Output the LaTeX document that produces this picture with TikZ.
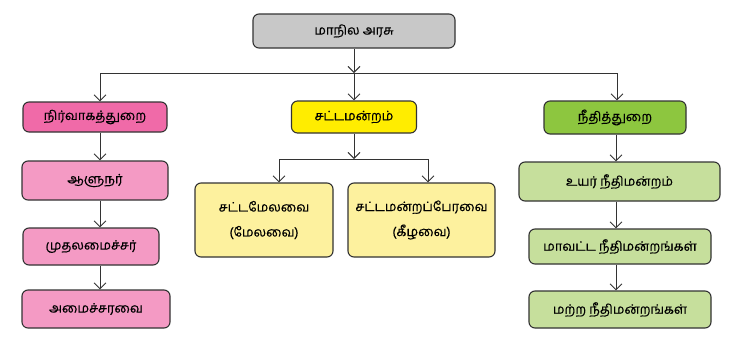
\documentclass[tikz,border=0pt]{standalone}
\usepackage{fontspec}
\newfontfamily\tamil[Script=Tamil, FakeBold=0.4]{Hind Madurai}
\usetikzlibrary{arrows.meta}
\definecolor{linec}{HTML}{333333}
\definecolor{greyc}{HTML}{C8C8C8}
\definecolor{pinkd}{HTML}{F06AA8}
\definecolor{pinkl}{HTML}{F49AC4}
\definecolor{yeld}{HTML}{FFED00}
\definecolor{yell}{HTML}{FDF19E}
\definecolor{grnd}{HTML}{8DC63F}
\definecolor{grnl}{HTML}{C6DF9C}
\tikzset{
  box/.style={draw=linec, line width=1.1pt, rounded corners=6pt, inner sep=0pt,
    align=center, font=\tamil\fontsize{13}{25}\selectfont, text=black},
  conn/.style={draw=linec, line width=0.9pt},
  arr/.style={conn, -{Straight Barb[length=6pt, width=12pt, line width=0.9pt]}}
}
\begin{document}
\begin{tikzpicture}[x=1pt,y=-1pt]
\useasboundingbox (0,0) rectangle (729,338);
\fill[white] (0,0) rectangle (729,338);
% nodes
\node[box, fill=greyc, minimum width=202pt, minimum height=34pt] (top) at (354,31) {மாநில அரசு};
\node[box, fill=pinkd, minimum width=144pt, minimum height=30pt] (nirv) at (95,117) {நிர்வாகத்துறை};
\node[box, fill=yeld, minimum width=125pt, minimum height=32pt] (sattam) at (354,117) {சட்டமன்றம்};
\node[box, fill=grnd, minimum width=142pt, minimum height=33pt] (nithi) at (615,117.5) {நீதித்துறை};
\node[box, fill=pinkl, minimum width=146pt, minimum height=39pt] (aal) at (95,180.5) {ஆளுநர்};
\node[box, fill=pinkl, minimum width=136pt, minimum height=37pt] (muth) at (91,246.5) {முதலமைச்சர்};
\node[box, fill=pinkl, minimum width=148pt, minimum height=38pt] (amai) at (96,309) {அமைச்சரவை};
\node[box, fill=yell, minimum width=138pt, minimum height=74pt] (mel) at (264,220) {சட்டமேலவை\\(மேலவை)};
\node[box, fill=yell, minimum width=147pt, minimum height=74pt] (keel) at (421.5,220) {சட்டமன்றப்பேரவை\\(கீழவை)};
\node[box, fill=grnl, minimum width=201pt, minimum height=39pt] (uyar) at (619.5,181.5) {உயர் நீதிமன்றம்};
\node[box, fill=grnl, minimum width=182pt, minimum height=35pt] (maav) at (620,246.5) {மாவட்ட நீதிமன்றங்கள்};
\node[box, fill=grnl, minimum width=182pt, minimum height=37pt] (matra) at (620,309.5) {மற்ற நீதிமன்றங்கள்};
% coordinates
\coordinate (hubL) at (100,73);
\coordinate (hub) at (354,73);
\coordinate (hubR) at (617,73);
\coordinate (subhub) at (354,159);
\coordinate (subL) at (279,159);
\coordinate (subR) at (428,159);
\coordinate (colL) at (100,0);
\coordinate (colR) at (616,0);
% connectors
\draw[arr] (top.south) -- (hub);
\draw[conn] (hubL) -- (hubR);
\draw[arr] (hubL) -- (hubL |- nirv.north);
\draw[arr] (hub) -- (sattam.north);
\draw[arr] (hubR) -- (hubR |- nithi.north);
\draw[arr] (colL |- nirv.south) -- (colL |- aal.north);
\draw[arr] (colL |- aal.south) -- (colL |- muth.north);
\draw[arr] (colL |- muth.south) -- (colL |- amai.north);
\draw[arr] (sattam.south) -- (subhub);
\draw[conn] (subL) -- (subR);
\draw[arr] (subL) -- (subL |- mel.north);
\draw[arr] (subR) -- (subR |- keel.north);
\draw[arr] (colR |- nithi.south) -- (colR |- uyar.north);
\draw[arr] (colR |- uyar.south) -- (colR |- maav.north);
\draw[arr] (colR |- maav.south) -- (colR |- matra.north);
\end{tikzpicture}
\end{document}
